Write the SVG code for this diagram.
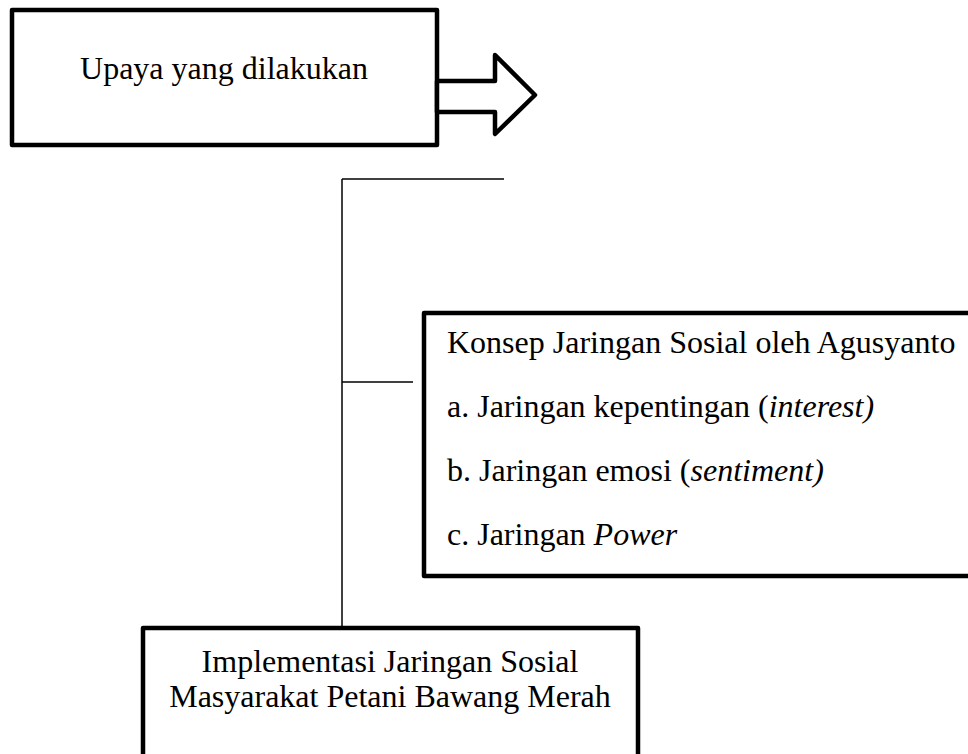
<svg xmlns="http://www.w3.org/2000/svg" width="968" height="754" viewBox="0 0 968 754">
<style>
  .box { fill: #fff; stroke: #000; stroke-width: 4.5; stroke-linejoin: round; }
  .conn { fill: none; stroke: #000; stroke-width: 1.5; }
  text { font-family: "Liberation Serif", "Times New Roman", serif; font-size: 32px; fill: #000; }
  .it { font-style: italic; }
</style>
<rect width="968" height="754" fill="#fff"/>
<g id="connectors">
  <line class="conn" x1="342" y1="179" x2="504" y2="179"/>
  <line class="conn" x1="342" y1="179" x2="342" y2="628"/>
  <line class="conn" x1="342" y1="382" x2="413" y2="382"/>
</g>
<g id="upaya">
  <rect class="box" x="12" y="10" width="425" height="135"/>
  <text x="224" y="79" text-anchor="middle">Upaya yang dilakukan</text>
</g>
<g id="arrow">
  <polygon class="box" points="437,81 495,81 495,55 535,95 495,134 495,112 437,112"/>
</g>
<g id="konsep">
  <rect class="box" x="424" y="313" width="580" height="263"/>
  <text x="447" y="353">Konsep Jaringan Sosial oleh Agusyanto</text>
  <text x="447" y="417">a. Jaringan kepentingan (<tspan class="it">interest)</tspan></text>
  <text x="447" y="481">b. Jaringan emosi (<tspan class="it">sentiment)</tspan></text>
  <text x="447" y="545">c. Jaringan <tspan class="it">Power</tspan></text>
</g>
<g id="implementasi">
  <rect class="box" x="143" y="628" width="495" height="180"/>
  <text x="390" y="672" text-anchor="middle">Implementasi Jaringan Sosial</text>
  <text x="390" y="707" text-anchor="middle">Masyarakat Petani Bawang Merah</text>
</g>
</svg>
